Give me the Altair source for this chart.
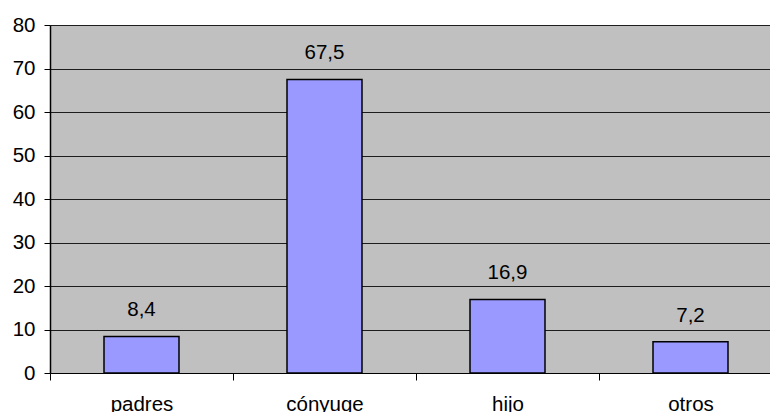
import altair as alt
import pandas as pd

categories = ["padres", "cónyuge", "hijo", "otros"]
values = [8.4, 67.5, 16.9, 7.2]

df = pd.DataFrame({"cat": categories, "v": values})

FONT = "Liberation Sans"
FS = 20.5

x = alt.X("cat:N", sort=categories, title=None,
          scale=alt.Scale(range=[0, 732], paddingInner=0, paddingOuter=0),
          axis=alt.Axis(labelAngle=0, tickBand="extent", tickSize=7, tickColor="#000",
                        domainColor="#000", domainWidth=1, labelPadding=30,
                        labelFontSize=FS, labelFont=FONT, labelColor="#000",
                        labelBaseline="alphabetic", grid=False))
y = alt.Y("v:Q", title=None,
          scale=alt.Scale(domain=[0, 80], nice=False),
          axis=alt.Axis(values=list(range(0, 81, 10)), tickSize=6, tickColor="#000",
                        domainColor="#000", domainWidth=1.5, labelPadding=9,
                        labelFontSize=FS, labelFont=FONT, labelColor="#000",
                        grid=True, gridColor="#000", gridWidth=1, gridOpacity=0.85))

bars = alt.Chart(df).mark_bar(color="#9999FF", stroke="#000", strokeWidth=1.5, size=75).encode(x=x, y=y)

text = alt.Chart(df).transform_calculate(
    lab="replace(format(datum.v, '.1f'), '.', ',')"
).mark_text(font=FONT, fontSize=FS, color="#000", baseline="alphabetic", dy=-20).encode(
    x=alt.X("cat:N", sort=categories),
    y=alt.Y("v:Q"),
    text="lab:N",
)

chart = (bars + text).properties(
    width=720, height=348,
    autosize=alt.AutoSizeParams(type="none"),
    padding={"left": 50, "top": 25, "right": 0, "bottom": 39},
    background="#FFFFFF",
).configure_view(fill="#C0C0C0", stroke=None)

chart.save("out.html", embed_options={"renderer": "svg", "actions": False})
